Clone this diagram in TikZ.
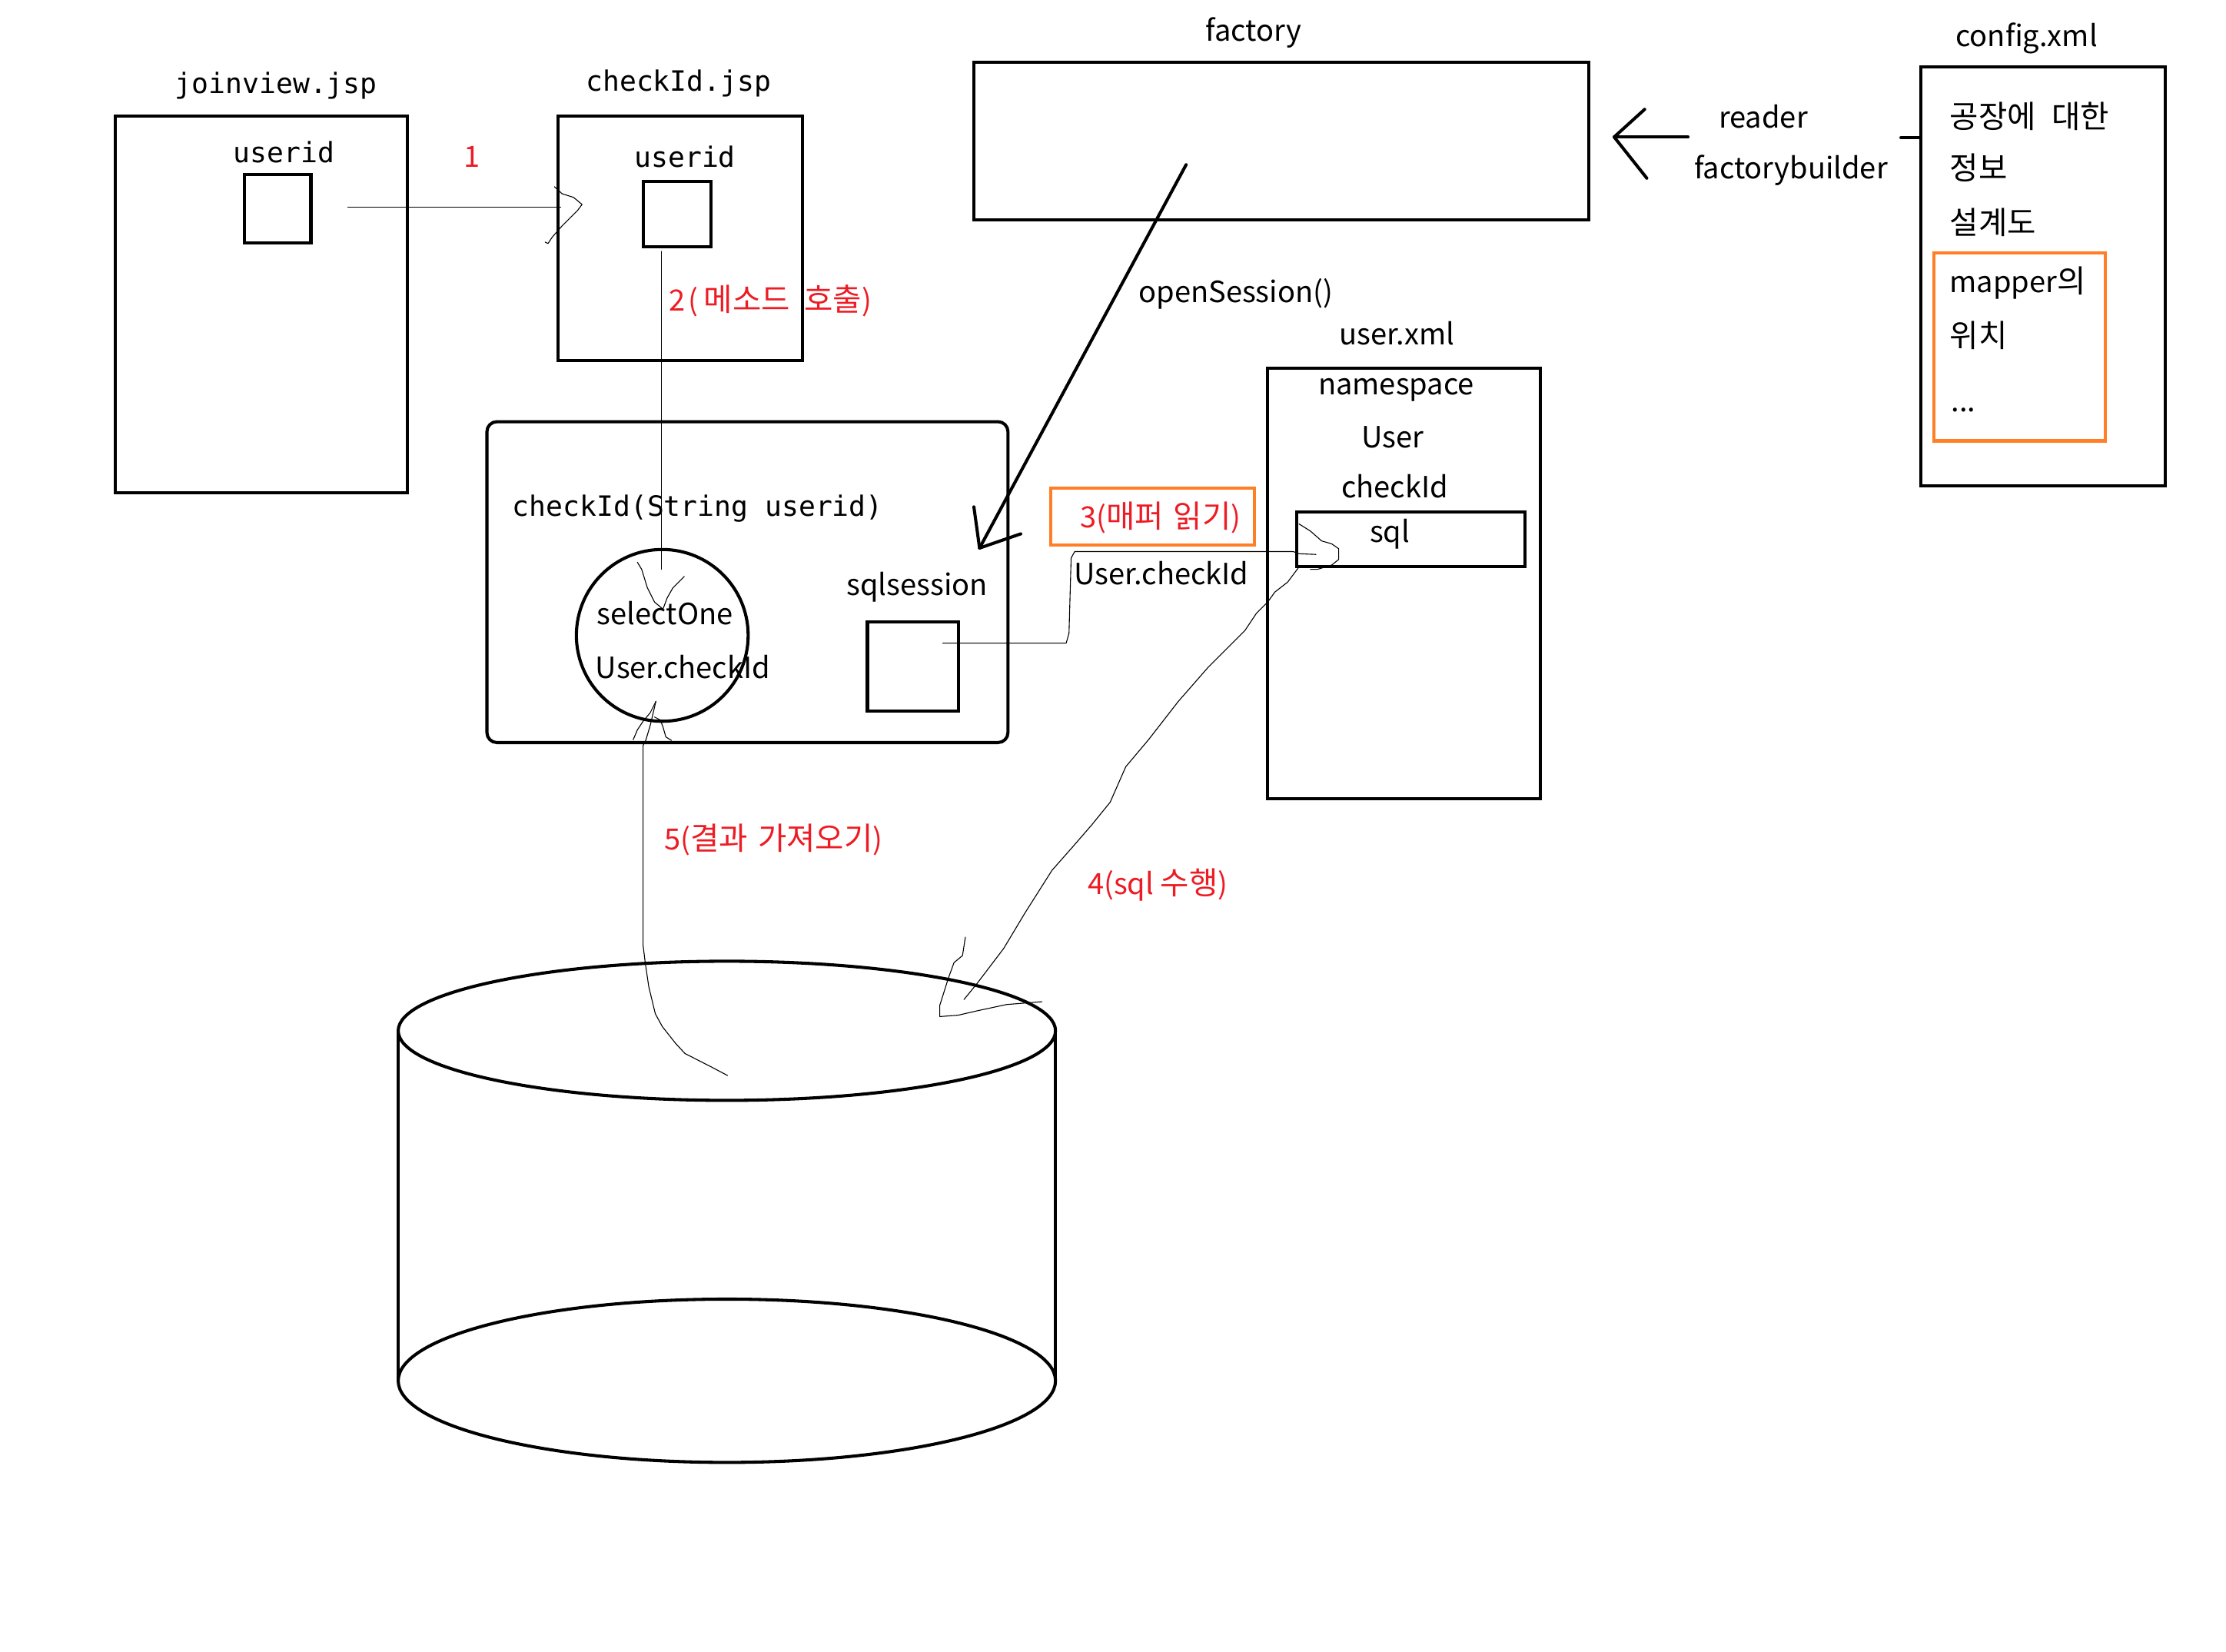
\documentclass[tikz,border=0pt]{standalone}
\usepackage{fontspec}
\setmainfont{Noto Sans CJK KR}
\newfontfamily\krfont{Noto Sans CJK KR}[Scale=1.068]
\newcommand\K[1]{{\krfont #1}}
\setmonofont{DejaVu Sans Mono}
\usetikzlibrary{fit}
\definecolor{pred}{RGB}{237,28,36}
\definecolor{porange}{RGB}{255,127,39}
\tikzset{
  box/.style={draw, line width=1.1pt, inner sep=0pt},
  obox/.style={draw=porange, line width=1.1pt, inner sep=0pt},
  lbl/.style={inner sep=0pt, font=\fontsize{10.3}{13}\selectfont},
  mlbl/.style={inner sep=0pt, font=\ttfamily\fontsize{9.85}{12}\selectfont},
  rlbl/.style={lbl, text=pred},
  hand/.style={line width=0.3pt, line join=round, line cap=round},
  heavy/.style={line width=1.1pt, line cap=round, line join=round}
}
\begin{document}
\begin{tikzpicture}[x=0.5pt,y=-0.5pt]
\useasboundingbox (0,0) rectangle (1568,1163);

% ---------- joinview.jsp ----------
\node[box, fit={(81,82) (287,347)}] (joinview) {};
\node[mlbl, anchor=base] (joinviewT) at (194.5,66) {joinview.jsp};
\node[mlbl, anchor=base] (jvuserT) at (200,114.5) {userid};
\node[box, fit={(172,123) (219,171)}] (jvuser) {};

% ---------- checkId.jsp ----------
\node[box, fit={(393,82) (565,254)}] (checkjsp) {};
\node[mlbl, anchor=base] (checkjspT) at (478,64) {checkId.jsp};
\node[mlbl, anchor=base] (cjuserT) at (482.5,117.5) {userid};
\node[box, fit={(453,128) (501,174)}] (cjuser) {};

% ---------- method box ----------
\node[box, rounded corners=3.5pt, fit={(343,297) (710,523)}] (method) {};
\node[mlbl, anchor=base] (methodT) at (491.5,363.5) {checkId(String userid)};
\node[draw, circle, line width=1.1pt, minimum size=60.5pt, inner sep=0pt] (sel) at (466.5,447.5) {};
\node[lbl, anchor=base] (selT1) at (468.5,440) {selectOne};
\node[lbl, anchor=base] (selT2) at (481,478) {User.checkId};
\node[lbl, anchor=base] (sessT) at (646,419.5) {sqlsession};
\node[box, fit={(611,438) (675,501)}] (sess) {};

% ---------- factory ----------
\node[box, fit={(686,44) (1119,155)}] (factory) {};
\node[lbl, anchor=base] (factoryT) at (883,29) {factory};
\node[lbl, anchor=base] (openT) at (870.5,213) {openSession()};
\node[lbl, anchor=base] (readerT) at (1242,90) {reader};
\node[lbl, anchor=base] (builderT) at (1261.5,126) {factorybuilder};

% ---------- config.xml ----------
\node[box, fit={(1353,47) (1525,342)}] (config) {};
\node[lbl, anchor=base] (configT) at (1427.5,33) {config.xml};
\node[lbl, anchor=base west] (c1) at (1373,90) {\K{공장에\hspace{5.5pt}대한}};
\node[lbl, anchor=base west] (c2) at (1373,126.5) {\K{정보}};
\node[lbl, anchor=base west] (c3) at (1373,165) {\K{설계도}};
\node[obox, fit={(1362,178) (1483,310.5)}] (mapperbox) {};
\node[lbl, anchor=base west] (c4) at (1373,206) {mapper\K{의}};
\node[lbl, anchor=base west] (c5) at (1373,244.5) {\K{위치}};
\node[lbl, anchor=base west] (c6) at (1374,290) {...};

% ---------- user.xml ----------
\node[box, fit={(893,259.5) (1085,562.5)}] (userxml) {};
\node[lbl, anchor=base] (userxmlT) at (984,243) {user.xml};
\node[lbl, anchor=base] (u1) at (983.5,278) {namespace};
\node[lbl, anchor=base] (u2) at (981,315.5) {User};
\node[lbl, anchor=base] (u3) at (982.5,350.5) {checkId};
\node[box, fit={(913.5,360.5) (1074,399)}] (sql) {};
\node[lbl, anchor=base] (sqlT) at (979,382) {sql};

% ---------- step labels ----------
\node[rlbl, anchor=base] (s1) at (332.5,117.5) {1};
\node[rlbl, anchor=base west] (s2) at (471,219) {2\kern1pt(\kern2pt\K{메소드\hspace{5pt}호출})};
\node[obox, fit={(740,344) (883.5,384)}] (s3box) {};
\node[rlbl, anchor=base] (s3) at (817.5,371.5) {3(\K{매퍼\hspace{3.5pt}읽기})};
\node[lbl, anchor=base] (s3b) at (818,412) {User.checkId};
\node[rlbl, anchor=base] (s4) at (815.5,630) {4(sql \K{수행})};
\node[rlbl, anchor=base] (s5) at (545,598.5) {5(\K{결과\hspace{3.5pt}가져오기})};

% ---------- database cylinder ----------
\coordinate (db) at (512,726);
\draw[heavy] (db) ellipse [x radius=231.5, y radius=49];
\draw[heavy] (512,972.5) ellipse [x radius=231.5, y radius=57.5];
\draw[heavy] (280.5,726) -- (280.5,972.5);
\draw[heavy] (743.5,726) -- (743.5,972.5);

% ---------- connector 1 ----------
\coordinate (a1s) at (245,146);
\coordinate (a1e) at (395,146);
\draw[hand] (a1s) -- (a1e);
\draw[hand] (390.5,131.5) -- (396,136.5) -- (404,139) -- (410,144) -- (407,148)
  -- (400,155) -- (396,159) -- (389,167) -- (386,171.5) -- (384,170.5);

% ---------- connector 2 ----------
\coordinate (a2s) at (466,177);
\coordinate (a2e) at (466,401);
\draw[hand] (a2s) -- (a2e);
\draw[hand] (449,396) -- (452,401) -- (456,414) -- (461,424) -- (467,429);
\draw[hand] (482,406) -- (474,414) -- (470,421) -- (467,429);

% ---------- openSession ----------
\coordinate (os1) at (835.5,116);
\coordinate (os2) at (690,386);
\draw[heavy] (os1) -- (os2);
\draw[heavy] (686,357) -- (os2) -- (719,376);

% ---------- reader / factorybuilder ----------
\coordinate (rd1) at (1189,96.5);
\coordinate (rd2) at (1137,96.5);
\draw[heavy] (rd1) -- (rd2);
\draw[heavy] (1158.5,77) -- (rd2) -- (1160,125.5);
\coordinate (cfl) at (1339,97);
\draw[heavy] (cfl) -- (config.west |- cfl);

% ---------- connector 3 ----------
\coordinate (a3s) at (664,453);
\draw[hand] (a3s) -- (751,453) -- (753,446) -- (754.5,393) -- (757,388.5)
  -- (911,388.5) -- (915,390) -- (927,390.5);
\draw[hand] (915,369) -- (923,374) -- (931,381) -- (938,383) -- (943,386.5)
  -- (943,394) -- (938,398) -- (928,401) -- (923,401);

% ---------- connector 4 ----------
\coordinate (a4s) at (914.5,400);
\coordinate (a4e) at (679,704);
\draw[hand] (a4s) -- (907,410) -- (898,417) -- (893,424) -- (885,432) -- (877,444)
  -- (851,470) -- (830,494) -- (809,521) -- (793,540) -- (782,565) -- (769,581)
  -- (756,596) -- (741,613) -- (722,643) -- (707,668) -- (688,693) -- (a4e);
\draw[hand] (680,660) -- (678,673) -- (672,678) -- (668,689) -- (662,708) -- (662,716)
  -- (675,715) -- (688,712) -- (709,707.5) -- (734,705.5);

% ---------- connector 5 ----------
\coordinate (a5s) at (512.5,757.5);
\coordinate (a5e) at (462,494);
\draw[hand] (a5s) -- (501.5,751.7) -- (482.5,742) -- (476,735) -- (466.5,723)
  -- (461.6,714) -- (457,695) -- (454.5,678) -- (453,666) -- (453,525) -- (455,521)
  -- (458,511) -- (a5e);
\draw[hand] (446,521) -- (449,514) -- (453,508) -- (458,502) -- (a5e);
\draw[hand] (461,505) -- (465,507) -- (467,512) -- (469,519) -- (473,521.5);

\end{tikzpicture}
\end{document}
